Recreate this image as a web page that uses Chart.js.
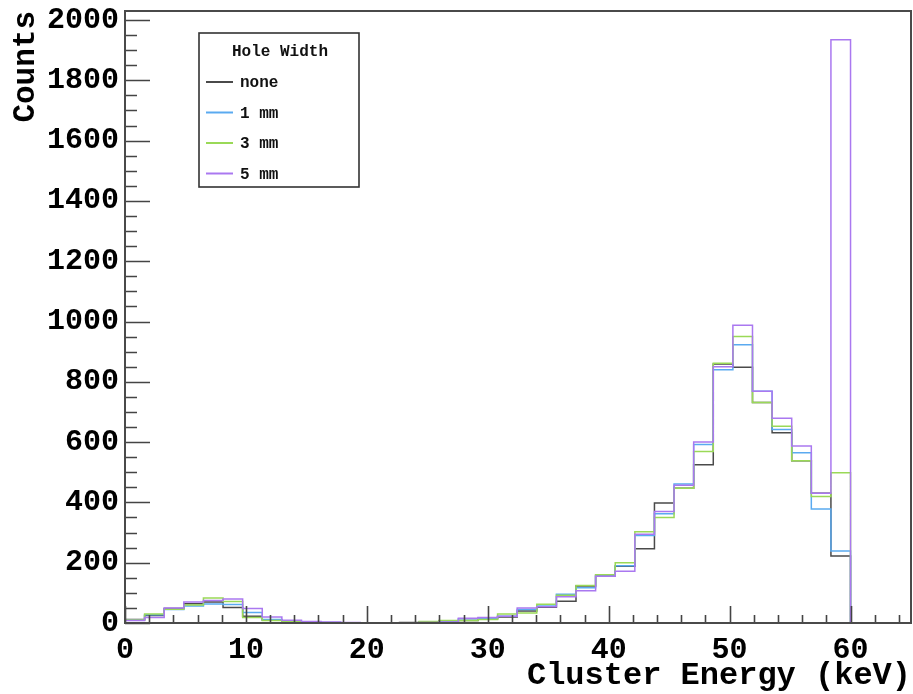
<!DOCTYPE html>
<html>
<head>
<meta charset="utf-8">
<script src="https://cdn.jsdelivr.net/npm/chart.js@4/dist/chart.umd.min.js"></script>
<style>
  html, body { margin: 0; padding: 0; background: #ffffff; }
  #wrap { width: 913px; height: 694px; }
</style>
</head>
<body>
<div id="wrap"><canvas id="c" width="913" height="694"></canvas></div>
<script>
// Histogram binning: 37 equal bins between 0 and 60 keV
const binLow = 0;
const binHigh = 60;
const nBins = 37;

const seriesLabels = ['none', '1 mm', '3 mm', '5 mm'];

// Counts per bin for each hole width
const countsNone = [12, 25, 48, 64, 70, 51, 22, 10, 4, 2, 1, 1, 0, 0, 2, 3, 4, 8, 14, 20, 40, 52, 72, 123, 158, 188, 246, 398, 447, 525, 859, 848, 731, 631, 538, 430, 222];
const counts1mm  = [10, 27, 45, 56, 63, 61, 35, 12, 5, 3, 2, 1, 1, 0, 1, 2, 6, 14, 16, 22, 45, 56, 95, 117, 156, 190, 290, 362, 461, 592, 840, 923, 769, 642, 565, 378, 239];
const counts3mm  = [10, 30, 46, 60, 83, 71, 18, 8, 4, 2, 1, 0, 0, 0, 1, 5, 8, 8, 12, 30, 33, 62, 92, 124, 160, 200, 303, 350, 447, 569, 862, 950, 731, 653, 538, 420, 498];
const counts5mm  = [8, 18, 50, 70, 75, 80, 48, 20, 9, 5, 3, 2, 1, 0, 1, 2, 3, 16, 18, 22, 50, 54, 87, 107, 155, 172, 294, 370, 457, 600, 850, 988, 769, 679, 587, 430, 1935];

const xTickValues = [0, 10, 20, 30, 40, 50, 60];
const yTickValues = [0, 200, 400, 600, 800, 1000, 1200, 1400, 1600, 1800, 2000];

const seriesColors = ['#4a4a4a', '#5aaaf0', '#9ad957', '#aa78f0'];

// Outline of a histogram as a stepped polyline
function histPoints(counts) {
  const w = (binHigh - binLow) / nBins;
  const pts = [{ x: binLow, y: 0 }];
  counts.forEach((c, i) => {
    pts.push({ x: binLow + i * w, y: c });
  });
  pts.push({ x: binHigh, y: counts[counts.length - 1] });
  pts.push({ x: binHigh, y: 0 });
  return pts;
}

const MONO = "'Liberation Mono', 'DejaVu Sans Mono', monospace";

// Frame, inward tick marks and boxed legend
const framePlugin = {
  id: 'frameTicks',
  afterDraw(chart) {
    const { ctx, chartArea: a, scales } = chart;
    const xs = scales.x, ys = scales.y;
    ctx.save();
    ctx.strokeStyle = '#444444';
    ctx.lineWidth = 1.6;
    ctx.beginPath();
    // y axis ticks (major every 200, minor every 50)
    for (let v = 0; v <= ys.max + 1e-6; v += 50) {
      const py = Math.round(ys.getPixelForValue(v)) + 0.5;
      const len = (v % 200 === 0) ? 25 : 12;
      ctx.moveTo(a.left, py);
      ctx.lineTo(a.left + len, py);
    }
    // x axis ticks (major every 10, minor every 2)
    for (let v = 0; v <= xs.max + 1e-6; v += 2) {
      const px = Math.round(xs.getPixelForValue(v)) + 0.5;
      const len = (v % 10 === 0) ? 17 : 8;
      ctx.moveTo(px, a.bottom);
      ctx.lineTo(px, a.bottom - len);
    }
    ctx.stroke();

    // frame
    ctx.lineWidth = 2;
    ctx.strokeStyle = '#4a4a4a';
    ctx.strokeRect(a.left, a.top, a.right - a.left, a.bottom - a.top);

    // legend box
    const bx = 199, by = 33, bw = 160, bh = 154;
    ctx.fillStyle = '#ffffff';
    ctx.fillRect(bx, by, bw, bh);
    ctx.lineWidth = 1.6;
    ctx.strokeStyle = '#333333';
    ctx.strokeRect(bx, by, bw, bh);
    ctx.fillStyle = '#111111';
    ctx.font = "bold 16px " + MONO;
    ctx.textBaseline = 'middle';
    ctx.textAlign = 'center';
    ctx.fillText('Hole Width', bx + bw / 2 + 1, 52);
    ctx.textAlign = 'left';
    chart.data.datasets.forEach((ds, i) => {
      const yy = 82 + i * 30.5;
      ctx.strokeStyle = ds.borderColor;
      ctx.lineWidth = 2;
      ctx.beginPath();
      ctx.moveTo(206, yy);
      ctx.lineTo(233, yy);
      ctx.stroke();
      ctx.fillStyle = '#111111';
      ctx.fillText(ds.label, 240, yy + 1);
    });
    ctx.restore();
  }
};

const allCounts = [countsNone, counts1mm, counts3mm, counts5mm];

new Chart(document.getElementById('c'), {
  type: 'line',
  data: {
    datasets: allCounts.map((counts, i) => ({
      label: seriesLabels[i],
      data: histPoints(counts),
      borderColor: seriesColors[i],
      borderWidth: 1.5,
      stepped: 'before',
      pointRadius: 0,
      fill: false,
      order: 4 - i
    }))
  },
  options: {
    responsive: false,
    animation: false,
    devicePixelRatio: 1,
    layout: { padding: { top: 11, right: 2, left: 0, bottom: 0 } },
    plugins: { legend: { display: false }, tooltip: { enabled: false } },
    scales: {
      x: {
        type: 'linear',
        min: 0,
        max: 65,
        grid: { display: false, drawTicks: false },
        border: { display: false },
        afterBuildTicks: (s) => { s.ticks = xTickValues.map(v => ({ value: v })); },
        afterFit: (s) => { s.height = 71; s.paddingLeft = 0; s.paddingRight = 0; },
        ticks: {
          color: '#000000',
          padding: 9,
          maxRotation: 0,
          font: { family: MONO, size: 30, weight: 'bold' },
          callback: (v) => String(v)
        },
        title: {
          display: true,
          text: 'Cluster Energy (keV)',
          align: 'end',
          color: '#000000',
          padding: { top: 0, bottom: 0 },
          font: { family: MONO, size: 32, weight: 'bold', lineHeight: 1.1 }
        }
      },
      y: {
        type: 'linear',
        min: 0,
        max: 2030,
        grid: { display: false, drawTicks: false },
        border: { display: false },
        afterBuildTicks: (s) => { s.ticks = yTickValues.map(v => ({ value: v })); },
        afterFit: (s) => { s.width = 125; s.paddingTop = 0; s.paddingBottom = 0; },
        ticks: {
          color: '#000000',
          padding: 6,
          font: { family: MONO, size: 30, weight: 'bold' },
          callback: (v) => String(v)
        },
        title: {
          display: true,
          text: 'Counts',
          align: 'end',
          color: '#000000',
          padding: { top: 8, bottom: 0 },
          font: { family: MONO, size: 31, weight: 'bold', lineHeight: 1.2 }
        }
      }
    }
  },
  plugins: [framePlugin]
});
</script>
</body>
</html>
